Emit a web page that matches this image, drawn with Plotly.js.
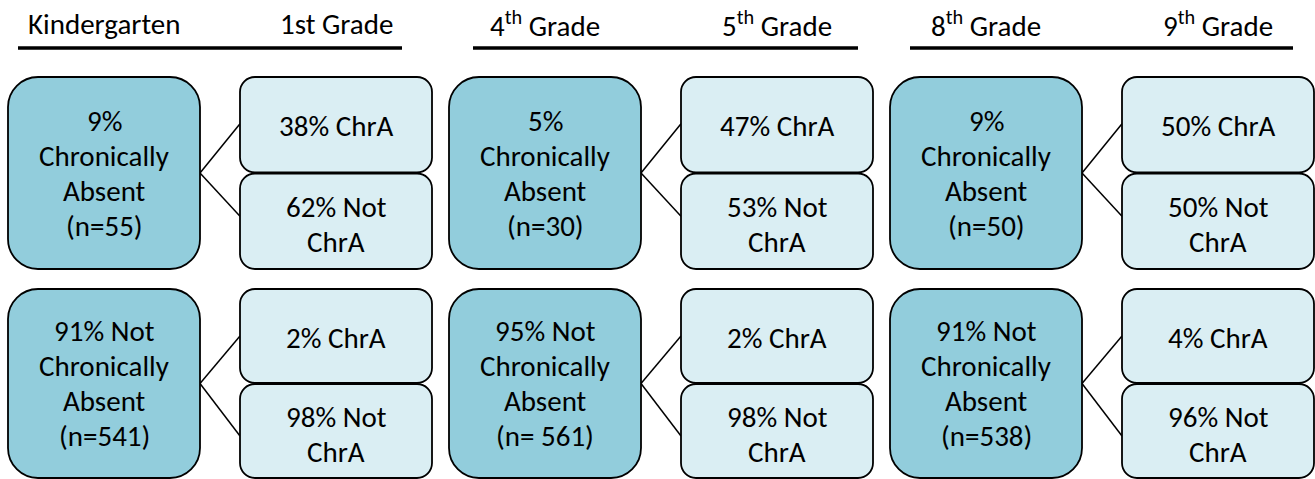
<!DOCTYPE html>
<html>
<head>
<meta charset="utf-8">
<script src="https://cdn.plot.ly/plotly-3.0.1.min.js"></script>
<style>html,body{margin:0;padding:0;background:#fff;}#chart{width:1315px;height:479px;}</style>
</head>
<body>
<div id="chart"></div>
<script>
// ---- data ----
const fromGrades = ["Kindergarten", "4<sup>th</sup> Grade", "8<sup>th</sup> Grade"];
const toGrades = ["1st Grade", "5<sup>th</sup> Grade", "9<sup>th</sup> Grade"];
const chrAbsentPct = [9, 5, 9];
const chrAbsentN = ["(n=55)", "(n=30)", "(n=50)"];
const notChrAbsentPct = [91, 95, 91];
const notChrAbsentN = ["(n=541)", "(n= 561)", "(n=538)"];
const chrA_nextChrA = [38, 47, 50];
const chrA_nextNot = [62, 53, 50];
const notChrA_nextChrA = [2, 2, 4];
const notChrA_nextNot = [98, 98, 96];

// ---- layout constants ----
const W = 1315, H = 479;
const FONT = "Carlito, Calibri, Lato, 'Open Sans', sans-serif";
const FS = 29;
const LINE = 35;
const bigX0 = [8, 449, 890];
const boxW = 192, gap = 40;
const rows = [{y0: 77, y1: 269, c1off: -1, c2off: -5}, {y0: 289, y1: 478, c1off: 0, c2off: 5}];
const headLine = [[18, 402], [473, 858], [910, 1293]];
const headY = 24, headLineY = 48;
const bigFill = "#92CDDC", smallFill = "#DAEEF3";

function rrect(x0, y0, x1, y1, r) {
  const k = 0.5523 * r;
  return `M${x0 + r},${y0} L${x1 - r},${y0} C${x1 - r + k},${y0} ${x1},${y0 + r - k} ${x1},${y0 + r} ` +
    `L${x1},${y1 - r} C${x1},${y1 - r + k} ${x1 - r + k},${y1} ${x1 - r},${y1} ` +
    `L${x0 + r},${y1} C${x0 + r - k},${y1} ${x0},${y1 - r + k} ${x0},${y1 - r} ` +
    `L${x0},${y0 + r} C${x0},${y0 + r - k} ${x0 + r - k},${y0} ${x0 + r},${y0} Z`;
}

const shapes = [], annotations = [];
function text(x, y, t) {
  annotations.push({x: x, y: y, xref: "x", yref: "y", text: t, showarrow: false,
    xanchor: "center", yanchor: "middle", font: {family: FONT, size: FS, color: "#000"}});
}
function block(x, yc, lines) {
  const n = lines.length;
  lines.forEach((t, i) => text(x, yc + (i - (n - 1) / 2) * LINE, t));
}
function box(x0, y0, x1, y1, r, fill) {
  shapes.push({type: "path", xref: "x", yref: "y", path: rrect(x0, y0, x1, y1, r),
    fillcolor: fill, line: {color: "#000", width: 1.8}, layer: "above"});
}
function line(x0, y0, x1, y1, w) {
  shapes.push({type: "line", xref: "x", yref: "y", x0: x0, y0: y0, x1: x1, y1: y1,
    line: {color: "#000", width: w}, layer: "above"});
}

for (let p = 0; p < 3; p++) {
  const bx0 = bigX0[p], bx1 = bx0 + boxW;
  const sx0 = bx1 + gap, sx1 = sx0 + boxW;
  // headers
  text((bx0 + bx1) / 2, headY, fromGrades[p]);
  text((sx0 + sx1) / 2, headY, toGrades[p]);
  line(headLine[p][0], headLineY, headLine[p][1], headLineY, 3.3);

  const bigLabels = [
    [chrAbsentPct[p] + "%", "Chronically", "Absent", chrAbsentN[p]],
    [notChrAbsentPct[p] + "% Not", "Chronically", "Absent", notChrAbsentN[p]]
  ];
  const smallLabels = [
    [[chrA_nextChrA[p] + "% ChrA"], [chrA_nextNot[p] + "% Not", "ChrA"]],
    [[notChrA_nextChrA[p] + "% ChrA"], [notChrA_nextNot[p] + "% Not", "ChrA"]]
  ];
  rows.forEach((r, ri) => {
    const mid = (r.y0 + r.y1) / 2;
    const half = (r.y1 - r.y0) / 2;
    const s1 = [r.y0, r.y0 + half - 0.5];
    const s2 = [r.y0 + half + 0.5, r.y1];
    const c1 = (s1[0] + s1[1]) / 2, c2 = (s2[0] + s2[1]) / 2;
    // connectors
    line(bx1, mid, sx0, c1 + r.c1off, 1.5);
    line(bx1, mid, sx0, c2 + r.c2off, 1.5);
    box(bx0, r.y0, bx1, r.y1, 30, bigFill);
    box(sx0, s1[0], sx1, s1[1], 15, smallFill);
    box(sx0, s2[0], sx1, s2[1], 15, smallFill);
    block((bx0 + bx1) / 2, mid, bigLabels[ri]);
    block((sx0 + sx1) / 2, c1 + 1.5, smallLabels[ri][0]);
    block((sx0 + sx1) / 2, c2 + 3, smallLabels[ri][1]);
  });
}

const layout = {
  width: W, height: H,
  margin: {l: 0, r: 0, t: 0, b: 0, pad: 0},
  paper_bgcolor: "#fff", plot_bgcolor: "#fff",
  showlegend: false,
  xaxis: {range: [0, W], visible: false, fixedrange: true},
  yaxis: {range: [H, 0], visible: false, fixedrange: true},
  shapes: shapes, annotations: annotations
};
Plotly.newPlot("chart", [{x: [], y: [], type: "scatter", mode: "markers", hoverinfo: "skip"}], layout,
  {staticPlot: true, displayModeBar: false});
</script>
</body>
</html>
